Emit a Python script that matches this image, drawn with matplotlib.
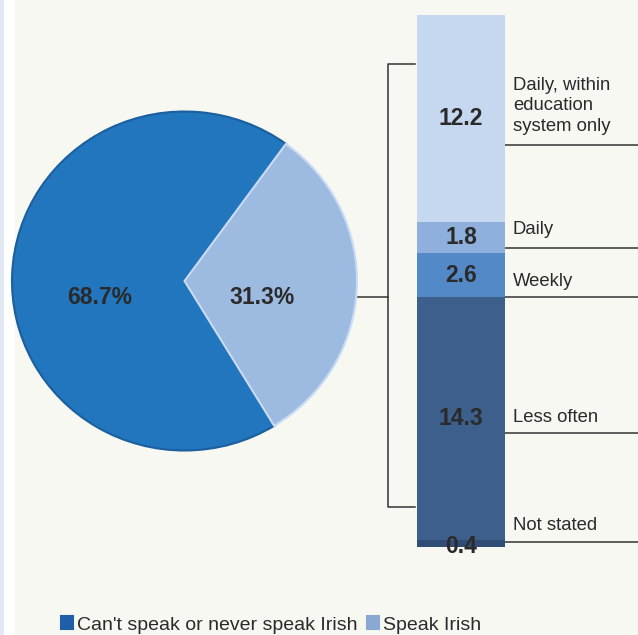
import matplotlib
matplotlib.use("Agg")
import matplotlib.pyplot as plt
from matplotlib.patches import Rectangle

plt.rcParams['font.family'] = ['Liberation Sans', 'DejaVu Sans']

# ---- data ----
pie_labels = ["Can't speak or never speak Irish", "Speak Irish"]
pie_values = [68.7, 31.3]
pie_colors = ["#2176bd", "#9dbbe1"]

bar_categories = ["Not stated", "Less often", "Weekly", "Daily",
                  "Daily, within\neducation\nsystem only"]
bar_values = [0.4, 14.3, 2.6, 1.8, 12.2]
bar_colors = ["#2f4d75", "#3c5f8c", "#5489c8", "#8fb0dc", "#c5d8f0"]

W, H = 638, 635
BG = "#f7f8f2"
fig = plt.figure(figsize=(W / 100, H / 100), dpi=100)
fig.patch.set_facecolor(BG)

# background / decoration axes in pixel coordinates
deco = fig.add_axes([0, 0, 1, 1])
deco.set_xlim(0, W)
deco.set_ylim(H, 0)
deco.axis("off")
deco.add_patch(Rectangle((0, 0), 4, H, color="#e3e9f4", lw=0))
deco.add_patch(Rectangle((4, 0), 11, H, color="white", lw=0))

# ---- pie ----
cx, cy, rx, ry = 184.5, 281, 172.5, 169.5
pax = fig.add_axes([(cx - rx) / W, (H - cy - ry) / H, 2 * rx / W, 2 * ry / H])
wedges, _ = pax.pie(pie_values, colors=pie_colors, startangle=54,
                    counterclock=True, radius=1,
                    wedgeprops=dict(linewidth=1.5))
wedges[0].set_edgecolor("#1b5f9f")
wedges[1].set_edgecolor("#c9dcf3")
pax.set_xlim(-1.0, 1.0)
pax.set_ylim(-1.0, 1.0)
pax.set_aspect("auto")
pax.axis("off")
pax.text(-0.49, -0.1, f"{pie_values[0]}%", ha="center", va="center",
         fontsize=16.5, fontweight="bold", color="#2a2a2a")
pax.text(0.45, -0.1, f"{pie_values[1]}%", ha="center", va="center",
         fontsize=16.5, fontweight="bold", color="#2a2a2a")

# ---- stacked bar ----
bx0, bx1, by0, by1 = 417, 505, 15, 547
bax = fig.add_axes([bx0 / W, (H - by1) / H, (bx1 - bx0) / W, (by1 - by0) / H])
bottom = 0
for v, c in zip(bar_values, bar_colors):
    bax.bar(0, v, bottom=bottom, width=1, color=c, linewidth=0)
    ty = bottom + v / 2
    if v < 1:
        ty = bottom + 0.05
    bax.text(0, ty, f"{v}", ha="center", va="center", fontsize=16.5,
             fontweight="bold", color="#2a2a2a")
    bottom += v
bax.set_xlim(-0.5, 0.5)
bax.set_ylim(0, sum(bar_values))
bax.axis("off")

# ---- bracket and connector ----
lc = "#333333"
deco.plot([345, 388], [297, 297], color=lc, lw=1.1)
deco.plot([415, 388, 388, 415], [64, 64, 507, 507], color=lc, lw=1.1)

# ---- category labels and leader lines ----
lab_y = [525, 417, 281, 230, 106]
line_y = [542, 433, 297, 248, 145]
for name, ty, ly in zip(bar_categories, lab_y, line_y):
    deco.text(513, ty, name, ha="left", va="center", fontsize=13.3,
              color="#2a2a2a", linespacing=1.3)
    deco.plot([505, W], [ly, ly], color=lc, lw=1.1)

# ---- legend ----
leg = deco.legend(wedges, pie_labels, loc="center", ncol=2, frameon=False,
                  bbox_to_anchor=(271 / W, 1 - 625 / H),
                  bbox_transform=fig.transFigure,
                  fontsize=14, handlelength=0.6, handleheight=0.6,
                  handletextpad=0.2, columnspacing=0.5,
                  labelcolor="#2a2a2a")
for h, c in zip(leg.legend_handles, ["#1f5fa8", "#8ba8d2"]):
    h.set_facecolor(c)
    h.set_edgecolor(c)

fig.savefig("out.png", dpi=100, facecolor=BG)
